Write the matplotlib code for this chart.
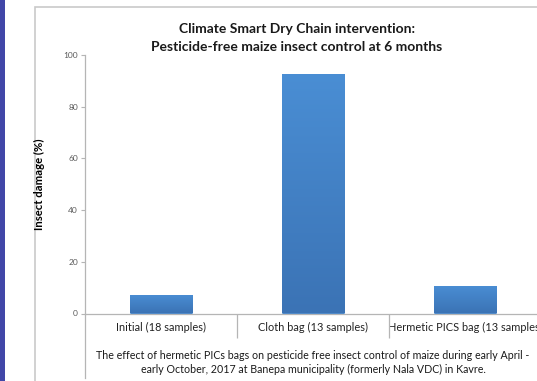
import numpy as np
import matplotlib
matplotlib.use('Agg')
import matplotlib.pyplot as plt
from matplotlib.patches import Rectangle
from matplotlib.lines import Line2D

# data
categories = ['Initial (18 samples)', 'Cloth bag (13 samples)', 'Hermetic PICS bag (13 samples)']
damage = [7.2, 92.8, 10.6]
yticks = [0, 20, 40, 60, 80, 100]

title = 'Climate Smart Dry Chain intervention:\nPesticide-free maize insect control at 6 months'
caption = ('The effect of hermetic PICs bags on pesticide free insect control of maize during early April -\n'
           'early October, 2017 at Banepa municipality (formerly Nala VDC) in Kavre.')

plt.rcParams['font.family'] = ['Lato', 'DejaVu Sans']

W, H = 537, 381
fig = plt.figure(figsize=(W / 100, H / 100), dpi=100)
fig.patch.set_facecolor('white')

# purple strip on the left and the panel border
fig.patches.append(Rectangle((0, 0), 5 / W, 1, transform=fig.transFigure,
                             facecolor='#4147a8', edgecolor='none', zorder=-1))
fig.patches.append(Rectangle((34.5 / W, -0.1), 1, 1.1 - 7 / H, transform=fig.transFigure,
                             facecolor='none', edgecolor='#c9c9c9', linewidth=1.2, zorder=-1))

ax = fig.add_axes([85 / W, 1 - 313.5 / H, 456 / W, (313.5 - 55) / H])
ax.set_facecolor('none')

x = np.arange(len(categories))
bars = ax.bar(x, damage, width=0.41, color='#4485cc', edgecolor='#7aaee2', linewidth=0.6, zorder=2)

# vertical gradient inside each bar
grad = np.linspace(0, 1, 256).reshape(-1, 1)
cmap = matplotlib.colors.LinearSegmentedColormap.from_list('b', ['#3b73b5', '#4a8ed4'])
for b in bars:
    bx, by, bw, bh = b.get_x(), b.get_y(), b.get_width(), b.get_height()
    im = ax.imshow(grad, extent=[bx, bx + bw, by, by + bh], origin='lower', cmap=cmap,
                   aspect='auto', zorder=2.5)
    im.set_clip_path(b)

ax.set_xlim(-0.5, 2.5)
ax.set_ylim(0, 100)

for s in ['top', 'right']:
    ax.spines[s].set_visible(False)
for s in ['left', 'bottom']:
    ax.spines[s].set_color('#b5b5b5')
    ax.spines[s].set_linewidth(0.9)

ax.set_yticks(yticks)
ax.tick_params(axis='y', labelsize=6, labelcolor='#5a5a5a', color='#b5b5b5', length=3, width=0.8, pad=2)

# category labels and separators
ax.set_xticks(x)
ax.set_xticklabels(categories, fontsize=7.9, color='#222222')
ax.tick_params(axis='x', length=0, pad=6)
ax.set_xticks([0.5, 1.5], minor=True)
ax.tick_params(axis='x', which='minor', length=17, color='#b5b5b5', width=0.9)

# y axis line runs down past the category band
ax.add_line(Line2D([0, 0], [0, -0.25], transform=ax.transAxes, color='#b5b5b5',
                   linewidth=0.9, clip_on=False))

ax.set_ylabel('Insect damage (%)', fontsize=8.2, fontweight='bold')
ax.yaxis.set_label_coords(-0.088, 0.5)

fig.text(297 / W, 1 - 38 / H, title, ha='center', va='center', fontsize=10,
         fontweight='bold', color='#1a1a1a', linespacing=1.55)
fig.text(313 / W, 1 - 362.5 / H, caption, ha='center', va='center', fontsize=7.7,
         color='#1a1a1a', linespacing=1.3)

fig.savefig('out.png', dpi=100)
